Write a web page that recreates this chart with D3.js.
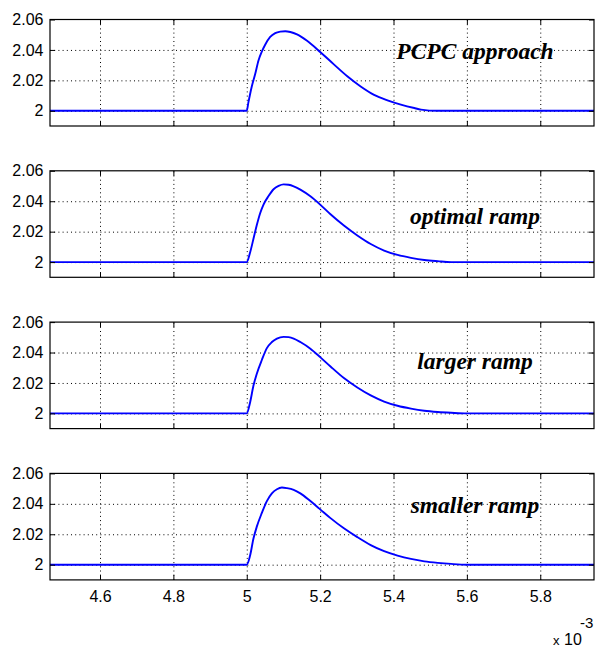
<!DOCTYPE html>
<html>
<head>
<meta charset="utf-8">
<script src="https://cdn.jsdelivr.net/npm/d3@7"></script>
<style>
  html, body { margin: 0; padding: 0; background: #fff; }
  svg { display: block; }
  .tick text { font-family: "Liberation Sans", Arial, sans-serif; font-size: 16px; fill: #000; }
</style>
</head>
<body>
<svg id="chart" width="595" height="650"></svg>
<script>
// ---- data (time in units of 1e-3 s) ----
const panelLabels = ["PCPC approach", "optimal ramp", "larger ramp", "smaller ramp"];

const timeA = [4.4637, 5.0, 5.0046, 5.0137, 5.0228, 5.032, 5.0411, 5.0502, 5.0639, 5.0776, 5.0913, 5.105, 5.1187, 5.137, 5.1644, 5.2009, 5.2374, 5.274, 5.3105, 5.347, 5.3836, 5.42, 5.4566, 5.4749, 5.52, 5.6, 5.9465];
const valueA = [2.0, 2.0, 2.0057, 2.016, 2.024, 2.0331, 2.0389, 2.0434, 2.0485, 2.051, 2.052, 2.0523, 2.0518, 2.0502, 2.046, 2.0385, 2.0305, 2.0227, 2.016, 2.0105, 2.0069, 2.0041, 2.0018, 2.0008, 2.0, 2.0, 2.0];

const timeB = [4.4637, 5.0, 5.0091, 5.0183, 5.0274, 5.0365, 5.0457, 5.0594, 5.0731, 5.0868, 5.1005, 5.1142, 5.1279, 5.1461, 5.1735, 5.2009, 5.2283, 5.2648, 5.3014, 5.3379, 5.3744, 5.411, 5.4475, 5.484, 5.5205, 5.557, 5.6, 5.9465];
const valueB = [2.0, 2.0, 2.0063, 2.0153, 2.0243, 2.0321, 2.0378, 2.0434, 2.0479, 2.0501, 2.0511, 2.0508, 2.0498, 2.0476, 2.0432, 2.0376, 2.0314, 2.0240, 2.0175, 2.0119, 2.0076, 2.0047, 2.0028, 2.0014, 2.0006, 2.0, 2.0, 2.0];

const timeC = [4.4637, 5.0, 5.0091, 5.0183, 5.0274, 5.0411, 5.0548, 5.0685, 5.0822, 5.1005, 5.1142, 5.1279, 5.1461, 5.1735, 5.2009, 5.2283, 5.2648, 5.3014, 5.3379, 5.3744, 5.411, 5.4475, 5.484, 5.5205, 5.557, 5.6, 5.9465];
const valueC = [2.0, 2.0, 2.0072, 2.0183, 2.0261, 2.0351, 2.0429, 2.0469, 2.0492, 2.0503, 2.0501, 2.0492, 2.0469, 2.0425, 2.0368, 2.0308, 2.0232, 2.0170, 2.0118, 2.0078, 2.0050, 2.0031, 2.0017, 2.0009, 2.0004, 2.0, 2.0];

const timeD = [4.4637, 5.0, 5.0091, 5.0183, 5.0274, 5.0411, 5.0548, 5.0685, 5.0822, 5.0959, 5.1096, 5.1279, 5.1461, 5.1735, 5.2009, 5.2283, 5.2648, 5.3014, 5.3379, 5.3744, 5.411, 5.4475, 5.484, 5.5205, 5.557, 5.6, 5.9465];
const valueD = [2.0, 2.0, 2.006, 2.0172, 2.025, 2.034, 2.0418, 2.0469, 2.0496, 2.0507, 2.0503, 2.0492, 2.0469, 2.0418, 2.0362, 2.0306, 2.0239, 2.0181, 2.0129, 2.0089, 2.006, 2.0038, 2.0022, 2.0012, 2.0005, 2.0, 2.0];

const xTicks = [4.6, 4.8, 5.0, 5.2, 5.4, 5.6, 5.8];
const xTickLabels = ["4.6", "4.8", "5", "5.2", "5.4", "5.6", "5.8"];
const yTicks = [2.0, 2.02, 2.04, 2.06];
const yTickLabels = ["2", "2.02", "2.04", "2.06"];
const xDomain = [4.4637, 5.9465];
const yDomain = [1.99, 2.06];

// ---- layout ----
const series = [[timeA, valueA], [timeB, valueB], [timeC, valueC], [timeD, valueD]];
const left = 50, right = 594;
const panelH = 106.5, panelStep = 151.3, firstTop = 19.5;
const labelBaseline = [39, 53, 46.5, 40]; // from each panel's top
const labelCenterX = 475;

const svg = d3.select("#chart");
const x = d3.scaleLinear().domain(xDomain).range([left, right]);

series.forEach(([ts, vs], i) => {
  const top = firstTop + i * panelStep;
  const bottom = top + panelH;
  const y = d3.scaleLinear().domain(yDomain).range([bottom, top]);
  const g = svg.append("g");

  // grid
  const gx = g.append("g").attr("transform", `translate(0,${bottom})`)
    .call(d3.axisBottom(x).tickValues(xTicks).tickSize(-panelH).tickFormat(""));
  const gy = g.append("g").attr("transform", `translate(${left},0)`)
    .call(d3.axisLeft(y).tickValues(yTicks.filter(v => v < 2.06)).tickSize(-(right - left)).tickFormat(""));
  [gx, gy].forEach(s => {
    s.select(".domain").remove();
    s.selectAll(".tick line").attr("stroke", "#000").attr("stroke-width", 1).attr("stroke-dasharray", "1,3.2");
  });

  // line
  const line = d3.line().x((d, k) => x(ts[k])).y((d, k) => y(vs[k])).curve(d3.curveMonotoneX);
  g.append("path").datum(vs).attr("d", line)
    .attr("fill", "none").attr("stroke", "#0000ff").attr("stroke-width", 1.9);

  // axes (ticks pointing inward)
  const ab = g.append("g").attr("transform", `translate(0,${bottom})`)
    .call(d3.axisBottom(x).tickValues(xTicks).tickSizeInner(-5).tickSizeOuter(0).tickPadding(10.5)
      .tickFormat((d, k) => i === 3 ? xTickLabels[k] : ""));
  const at = g.append("g").attr("transform", `translate(0,${top})`)
    .call(d3.axisTop(x).tickValues(xTicks).tickSizeInner(-5).tickSizeOuter(0).tickFormat(""));
  const al = g.append("g").attr("transform", `translate(${left},0)`)
    .call(d3.axisLeft(y).tickValues(yTicks).tickSizeInner(-5).tickSizeOuter(0).tickPadding(6.5)
      .tickFormat((d, k) => yTickLabels[k]));
  const ar = g.append("g").attr("transform", `translate(${right},0)`)
    .call(d3.axisRight(y).tickValues(yTicks).tickSizeInner(-5).tickSizeOuter(0).tickFormat(""));
  [ab, at, al, ar].forEach(s => {
    s.select(".domain").remove();
    s.selectAll(".tick line").attr("stroke", "#000").attr("stroke-width", 1);
    s.attr("font-family", null).attr("font-size", null);
  });

  // box
  g.append("rect").attr("x", left).attr("y", top).attr("width", right - left).attr("height", panelH)
    .attr("fill", "none").attr("stroke", "#000").attr("stroke-width", 1.2);

  // annotation
  g.append("text")
    .attr("x", labelCenterX).attr("y", top + labelBaseline[i])
    .attr("text-anchor", "middle")
    .attr("font-family", "'Liberation Serif', 'Times New Roman', serif")
    .attr("font-weight", "bold").attr("font-style", "italic")
    .attr("font-size", "23.5px").attr("fill", "#000")
    .text(panelLabels[i]);
});

// exponent label
const ex = svg.append("text").attr("font-family", "'Liberation Sans', Arial, sans-serif").attr("fill", "#000");
ex.append("tspan").attr("x", 553).attr("y", 645).attr("font-size", "13px").text("x");
ex.append("tspan").attr("x", 564).attr("y", 645).attr("font-size", "16px").text("10");
svg.append("text").attr("x", 580).attr("y", 628).attr("font-family", "'Liberation Sans', Arial, sans-serif")
  .attr("font-size", "15px").attr("fill", "#000").text("-3");
</script>
</body>
</html>
